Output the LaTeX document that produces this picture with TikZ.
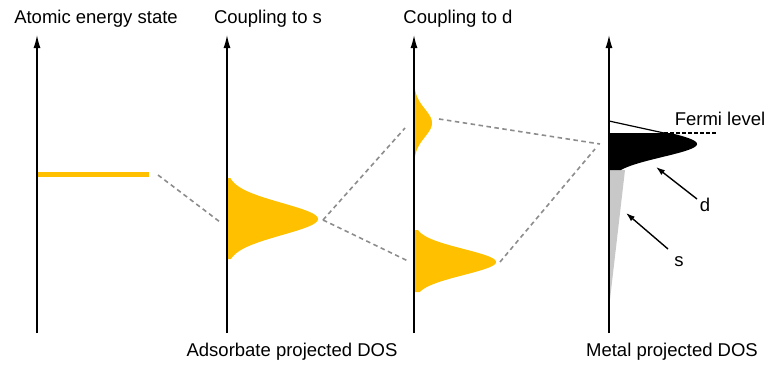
\documentclass[tikz,border=0pt]{standalone}
\usepackage{fontspec}
\setmainfont{Liberation Sans}
\usetikzlibrary{arrows.meta}
\definecolor{gold}{HTML}{FFC000}
\definecolor{sband}{HTML}{C8C8C8}
\definecolor{guide}{HTML}{8C8C8C}
\tikzset{
  axis/.style={line width=1.4pt, -{Latex[length=13pt,width=7pt]}},
  guideline/.style={guide, line width=1.6pt, dash pattern=on 4.5pt off 3.5pt},
  lbl/.style={font=\fontsize{18.5}{20}\selectfont, inner sep=0pt},
  pointer/.style={line width=1.4pt, -{Latex[length=9pt,width=6pt]}},
}
\begin{document}
\begin{tikzpicture}[x=1pt, y=-1pt]
\useasboundingbox (0,0) rectangle (769,367);

% energy axes
\coordinate (b1) at (37,333);   \coordinate (t1) at (37,35);
\coordinate (b2) at (227,333);  \coordinate (t2) at (227,35);
\coordinate (b3) at (414,333);  \coordinate (t3) at (414,35);
\coordinate (b4) at (609,333);  \coordinate (t4) at (609,35);

% adsorbate DOS curves
\fill[gold] (227,178) -- plot[domain=-41:40, samples=80, smooth] ({227+91*exp(-(\x)^2/(2*16^2))}, {219+\x}) -- (227,259) -- cycle;
\fill[gold] (414,82) -- plot[domain=-41:39, samples=80, smooth] ({414+18*exp(-(\x)^2/(2*14^2))}, {123+\x}) -- (414,162) -- cycle;
\fill[gold] (414,230) -- plot[domain=-32:30, samples=80, smooth] ({414+82*exp(-(\x)^2/(2*13^2))}, {262+\x}) -- (414,292) -- cycle;

% atomic level
\draw[gold, line width=5pt] (37,174) -- (149,174) coordinate (lvl);

% metal DOS: s band and d band below the Fermi level
\fill[sband] (609,170) -- (625,170) -- (609,308) -- cycle;
\fill[black] (609,133) -- plot[domain=-11:26, samples=60, smooth] ({609+88*exp(-(\x)^2/(2*13^2))}, {144+\x}) -- (609,170) -- cycle;
\coordinate (fA) at (609,121);
\coordinate (fB) at (664,133);
\coordinate (fC) at (716,133);
\draw[line width=1.2pt] (fA) -- (fB);
\draw[line width=1.2pt, dash pattern=on 3.5pt off 2.5pt] (fB) -- (fC);

\draw[axis] (b1) -- (t1);
\draw[axis] (b2) -- (t2);
\draw[axis] (b3) -- (t3);
\draw[axis] (b4) -- (t4);

% correlation lines between levels
\coordinate (g1) at (158,175);
\coordinate (g2) at (220,222);
\coordinate (g3) at (323,220);
\coordinate (g4) at (405,128);
\coordinate (g5) at (408,261);
\coordinate (g6) at (439,119);
\coordinate (g7) at (600,144);
\coordinate (g8) at (500,262);
\coordinate (g9) at (595,149);
\draw[guideline] (g1) -- (g2);
\draw[guideline] (g3) -- (g4);
\draw[guideline] (g3) -- (g5);
\draw[guideline] (g6) -- (g7);
\draw[guideline] (g8) -- (g9);

% labels
\node[lbl] (h1) at (96,19) {Atomic energy state};
\node[lbl] (h2) at (268,19) {Coupling to s};
\node[lbl] (h3) at (458,19) {Coupling to d};
\node[lbl] (f1) at (292,352) {Adsorbate projected DOS};
\node[lbl] (f2) at (672,352) {Metal projected DOS};
\node[lbl] (fermi) at (720,119) {Fermi level};
\node[lbl] (dl) at (705,205) {d};
\node[lbl] (sl) at (679,262) {s};

\coordinate (dT) at (656,167);
\coordinate (sT) at (626,213);
\draw[pointer] (697,199) -- (dT);
\draw[pointer] (668,249) -- (sT);
\end{tikzpicture}
\end{document}
